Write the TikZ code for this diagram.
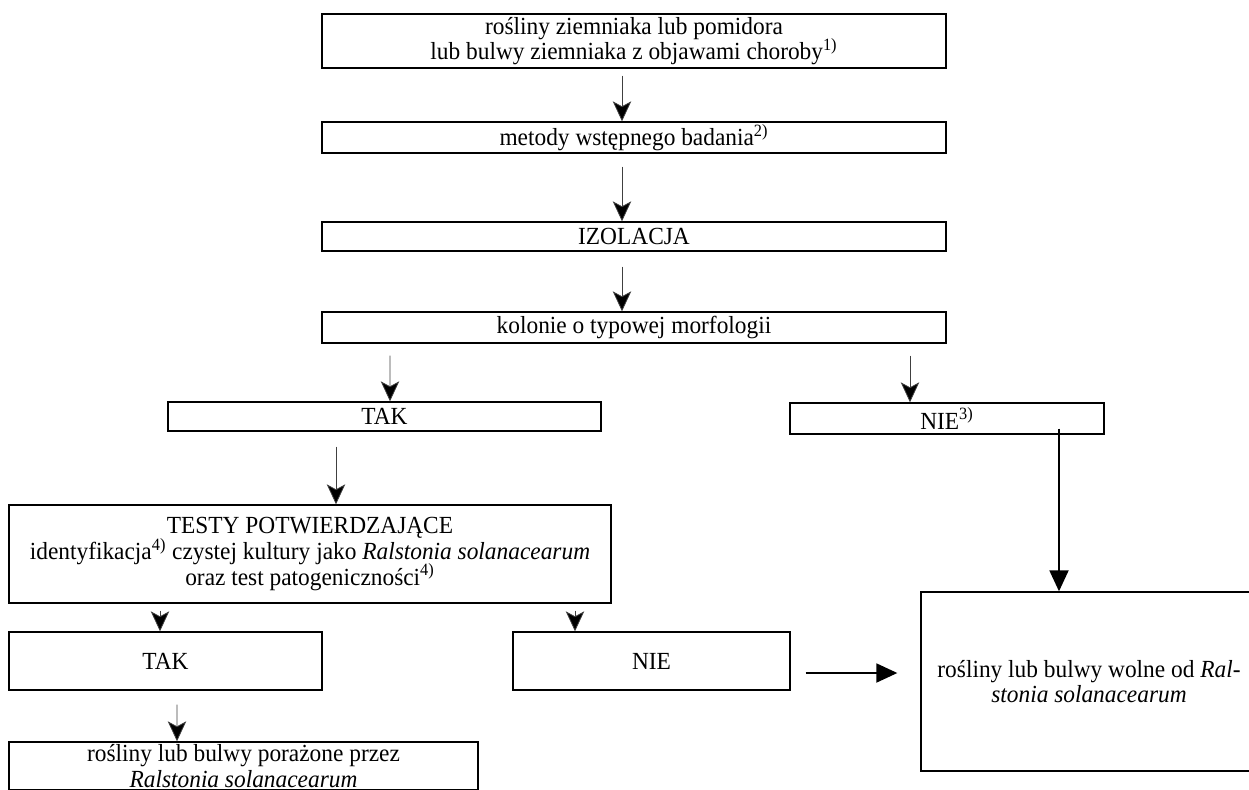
\documentclass[tikz,border=0pt]{standalone}
\usepackage{fontspec}
\setmainfont[FakeStretch=0.95]{Liberation Serif}
\usetikzlibrary{calc,arrows.meta}
\newcommand\flowfont{\fontsize{14}{14.6}\selectfont\lineskiplimit=-8pt\relax}

\begin{document}
\begin{tikzpicture}[x=0.02cm, y=-0.02cm,
  every node/.style={font=\flowfont},
  box/.style={draw, line width=0.8pt, inner sep=0pt, align=center},
  thinarr/.style={line width=0.45pt, draw=black!75, -{Stealth[length=0.4cm, width=0.37cm, inset=0.1cm, fill=black]}},
  thickarr/.style={line width=1.1pt, -{Triangle[length=0.42cm, width=0.38cm]}}]
\useasboundingbox (0,0) rectangle (1249,789);
\clip (0,0) rectangle (1249,789);

% main column
\node[box, minimum width=12.48cm, minimum height=1.08cm] (plants) at (634,41)
  {rośliny ziemniaka lub pomidora\\lub bulwy ziemniaka z objawami choroby\textsuperscript{1)}};
\node[box, minimum width=12.48cm, minimum height=0.62cm] (screen) at (634,137.5)
  {metody wstępnego badania\textsuperscript{2)}};
\node[box, minimum width=12.48cm, minimum height=0.58cm] (isol) at (634,236.5) {IZOLACJA};
\node[box, minimum width=12.48cm, minimum height=0.62cm] (colonies) at (634,327.5)
  {kolonie o typowej morfologii};

\draw[thinarr, shorten <=0.14cm] ($(plants.south)+(-12,0)$) -- ($(screen.north)+(-12,0)$);
\draw[thinarr, shorten <=0.26cm] ($(screen.south)+(-12,0)$) -- ($(isol.north)+(-12,0)$);
\draw[thinarr, shorten <=0.3cm] ($(isol.south)+(-12,0)$) -- ($(colonies.north)+(-12,0)$);

% first split
\node[box, minimum width=8.66cm, minimum height=0.58cm] (yesA) at (384.5,416.5) {TAK};
\node[box, minimum width=6.28cm, minimum height=0.62cm] (noA) at (947,418.5) {NIE\textsuperscript{3)}};

\draw[thinarr, shorten <=0.24cm] ($(colonies.south)+(-244,0)$) -- ($(yesA.north)+(5.5,0)$);
\draw[thinarr, shorten <=0.24cm] ($(colonies.south)+(276,0)$) -- ($(noA.north)+(-37,0)$);

% confirmation
\node[box, minimum width=12.04cm, minimum height=1.96cm] (tests) at (310,554)
  {TESTY POTWIERDZAJĄCE\\identyfikacja\textsuperscript{4)} czystej kultury jako \textit{Ralstonia solanacearum}\\oraz test patogeniczności\textsuperscript{4)}};

\draw[thinarr, shorten <=0.3cm] ($(yesA.south)+(-48.5,0)$) -- ($(tests.north)+(26,0)$);

% second split
\node[box, minimum width=6.26cm, minimum height=1.16cm] (yesB) at (165.5,661) {TAK};
\node[box, minimum width=5.54cm, minimum height=1.16cm] (noB) at (651.5,661) {NIE};
\node[box, minimum width=6.72cm, minimum height=3.58cm] (free) at (1089,681.5)
  {rośliny lub bulwy wolne od \textit{Ral-}\\\textit{stonia solanacearum}};
\node[box, minimum width=9.38cm, minimum height=0.96cm] (infected) at (243.5,766)
  {rośliny lub bulwy porażone przez\\\textit{Ralstonia solanacearum}};

\draw[thinarr, shorten <=0.14cm] ($(tests.south)+(-150,0)$) -- ($(yesB.north)+(-5.5,0)$);
\draw[thinarr, shorten <=0.14cm] ($(tests.south)+(265,0)$) -- ($(noB.north)+(-76.5,0)$);
\draw[thinarr, shorten <=0.28cm] ($(yesB.south)+(11.5,0)$) -- ($(infected.north)+(-66.5,0)$);

% to free
\draw[thickarr, shorten <=-0.12cm] ($(noA.south)+(112,0)$) -- ($(free.north)+(-30,0)$);
\draw[thickarr, shorten <=0.3cm, shorten >=0.46cm] ($(noB.east)+(0,12)$) -- ($(free.west)+(0,-8.5)$);
\end{tikzpicture}
\end{document}
